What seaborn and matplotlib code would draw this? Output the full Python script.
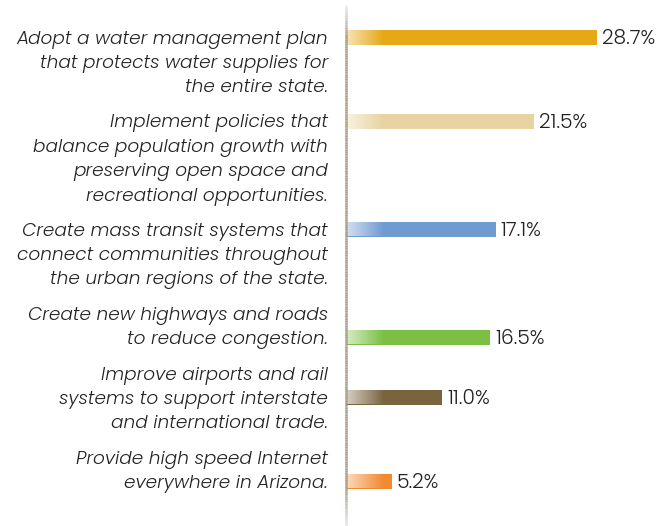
import numpy as np
import pandas as pd
import matplotlib
matplotlib.use("Agg")
import matplotlib.pyplot as plt
from matplotlib.collections import LineCollection
from matplotlib.colors import to_rgb
import seaborn as sns

# ---- data ----
labels = [
    "Adopt a water management plan\nthat protects water supplies for\nthe entire state.",
    "Implement policies that\nbalance population growth with\npreserving open space and\nrecreational opportunities.",
    "Create mass transit systems that\nconnect communities throughout\nthe urban regions of the state.",
    "Create new highways and roads\nto reduce congestion.",
    "Improve airports and rail\nsystems to support interstate\nand international trade.",
    "Provide high speed Internet\neverywhere in Arizona.",
]
values = [28.7, 21.5, 17.1, 16.5, 11.0, 5.2]
value_labels = ["28.7%", "21.5%", "17.1%", "16.5%", "11.0%", "5.2%"]
colors = ["#E6A817", "#E8D4A2", "#709BD1", "#7BC043", "#7A6440", "#F28A30"]

# ---- layout (in text-line units) ----
bar_line = [0, 0, 0, 1, 1, 1]   # which line of the label the bar sits on
gap = 1.5
starts, nlines = [], []
pos = 0.0
for lab in labels:
    n = lab.count("\n") + 1
    starts.append(pos)
    nlines.append(n)
    pos += n + (gap - 1)
ypos = [s + b for s, b in zip(starts, bar_line)]

df = pd.DataFrame({"label": labels, "value": values, "y": ypos})

sns.set_theme(style="white")
plt.rcParams["font.family"] = ["Poppins", "DejaVu Sans"]

W, H = 660, 526
fig = plt.figure(figsize=(W / 100, H / 100), dpi=100)
ax = fig.add_axes([0, 0, 1, 1])

px_per_unit = 8.75
x0_px = 346
line_px = 24
top_px = 37
XL = (-x0_px / px_per_unit, (W - x0_px) / px_per_unit)
YL = ((H - top_px) / line_px, -top_px / line_px)

sns.barplot(data=df, x="value", y="y", hue="label", palette=colors,
            orient="h", native_scale=True, dodge=False, legend=False, ax=ax,
            saturation=1)
ax.set_xlim(*XL)
ax.set_ylim(*YL)

bh = 15 / line_px
grad_w = 4.3
for p in list(ax.patches):
    cy = p.get_y() + p.get_height() / 2
    p.set_y(cy - bh / 2)
    p.set_height(bh)
    p.set_linewidth(0)
    g = np.zeros((1, 64, 4))
    g[..., :3] = 1.0
    g[0, :, 3] = np.linspace(0.7, 0.0, 64)
    im = ax.imshow(g, extent=[0, min(grad_w, p.get_width()), cy + bh / 2, cy - bh / 2],
                   aspect="auto", interpolation="bilinear", zorder=p.get_zorder() + 0.1)
    im.set_clip_path(p)

ax.set_xlim(*XL)
ax.set_ylim(*YL)

# category labels
for lab, s, n in zip(labels, starts, nlines):
    ax.text(-18 / px_per_unit, s + (n - 1) / 2 + 3 / line_px, lab, ha="right", va="center",
            multialignment="right", fontsize=13.3, style="italic",
            fontweight=300, color="#222222", linespacing=1.49)

# value labels
for v, vl, y in zip(values, value_labels, ypos):
    ax.text(v + 5 / px_per_unit, y + 1.5 / line_px, vl, ha="left", va="center",
            fontsize=14.6, fontweight=300, color="#222222")

# fading vertical axis line
ytop, ybot = -1.35, YL[0]
ys = np.linspace(ytop, ybot, 300)
segs = [[(0, a), (0, b)] for a, b in zip(ys[:-1], ys[1:])]
base = np.array(to_rgb("#A89A80"))
cols = []
for a in ys[:-1]:
    f = min(1.0, (a - ytop) / 1.3, (ybot - a) / 1.6)
    f = max(f, 0.0)
    c = base * f + np.array([0.92, 0.92, 0.92]) * (1 - f)
    cols.append(c)
lc = LineCollection(segs, colors=cols, linewidths=1.8, zorder=5)
ax.add_collection(lc)

ax.set_axis_off()
fig.savefig("out.png", dpi=100, facecolor="white")
